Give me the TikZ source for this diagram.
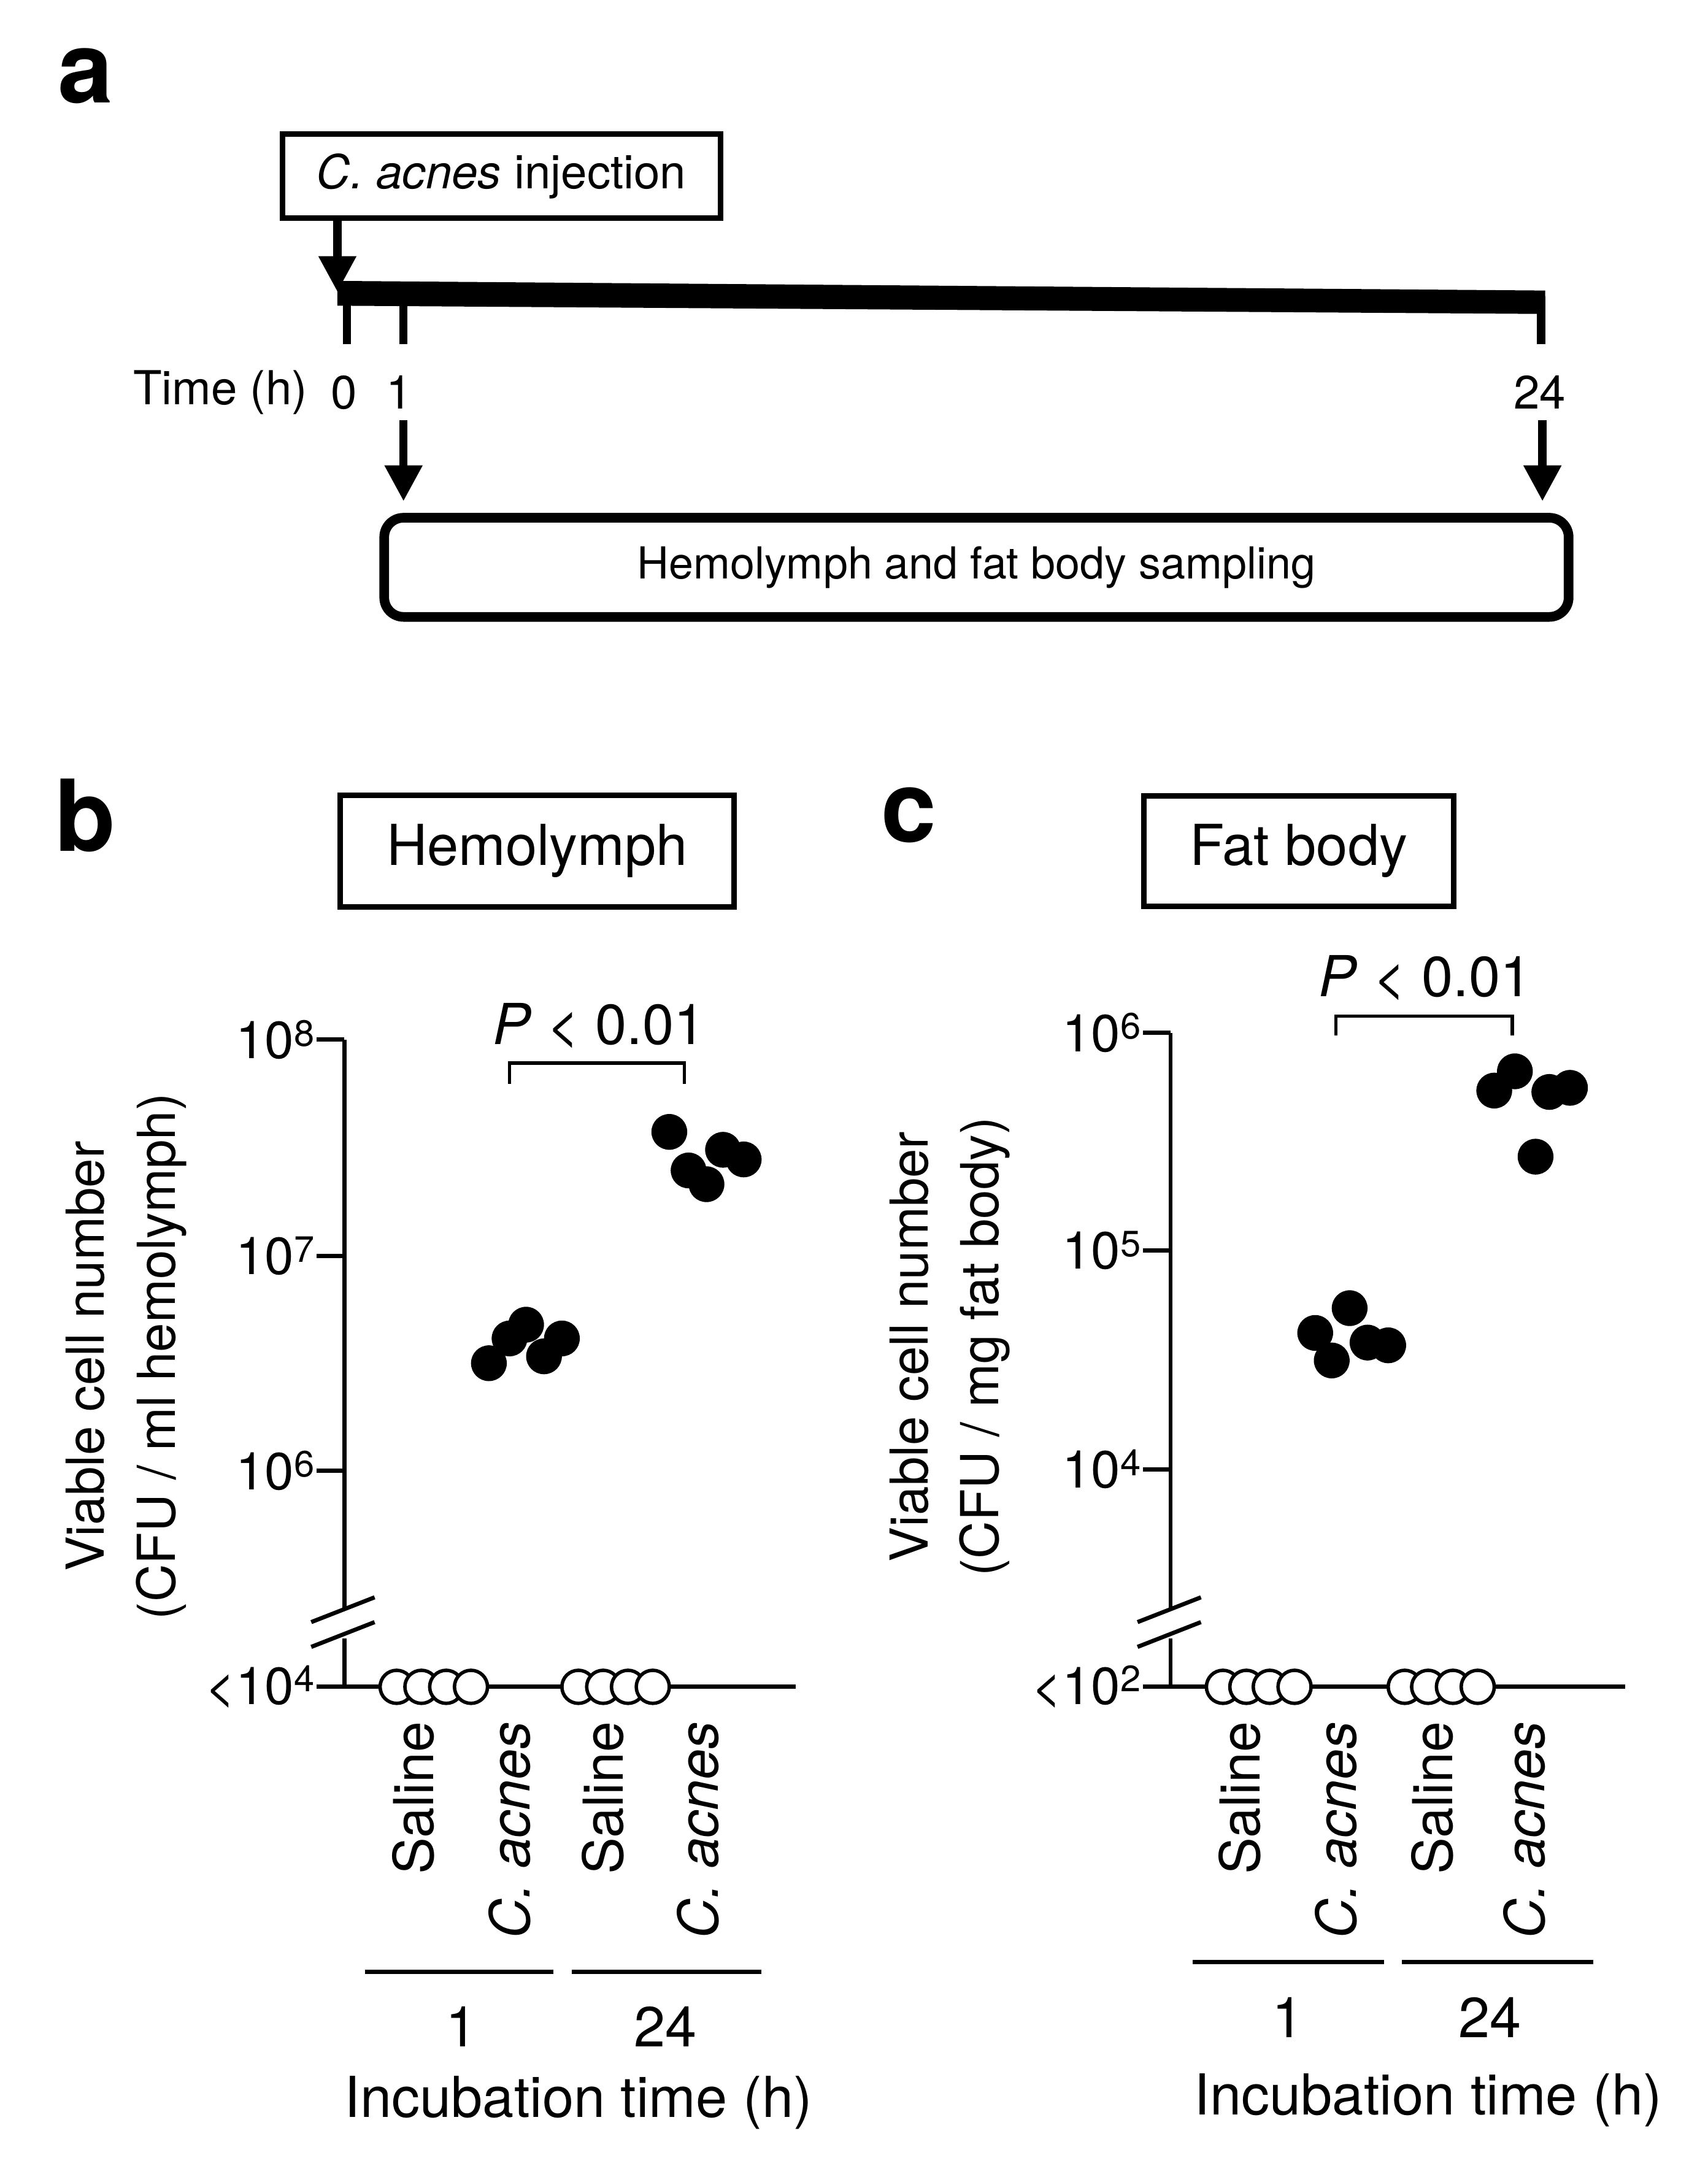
\documentclass[tikz,border=0pt]{standalone}
\usepackage{fontspec}
\setmainfont{TeX Gyre Heros}
\usetikzlibrary{arrows.meta}
\newcommand{\sps}[1]{\textsuperscript{#1}}
\begin{document}
\begin{tikzpicture}[x=1pt,y=-1pt,
  lbl/.style={font=\fontsize{34}{38}\selectfont,inner sep=0},
  tick/.style={font=\fontsize{38}{42}\selectfont,inner sep=0,anchor=east},
  cat/.style={font=\fontsize{40}{44}\selectfont,inner sep=0,rotate=90,anchor=east},
  big/.style={font=\fontsize{41}{45}\selectfont,inner sep=0},
  letter/.style={font=\fontsize{72}{76}\selectfont\bfseries,inner sep=0},
  ax/.style={line width=3pt},
  arr/.style={line width=6pt,-{Triangle[length=26pt,width=26pt]}},
  open/.style={draw,line width=2.5pt,fill=white},
  dot/.style={fill=black}]
\useasboundingbox (0,0) rectangle (1240,1573);
% ---- panel a
\node[letter] (la) at (62,55) {a};
\node[draw,line width=4pt,minimum width=318pt,minimum height=61pt,inner sep=0,font=\fontsize{34}{38}\selectfont] (inj) at (364,128) {\textit{C. acnes} injection};
\coordinate (t0) at (245,212);
\draw[arr] (245,158) -- (t0);
\fill (245,204) -- (1122,211) -- (1122,228) -- (245,222) -- cycle;
\draw[line width=6pt] (252,215) -- (252,250);
\draw[line width=6pt] (293,215) -- (293,250);
\draw[line width=6pt] (1119,215) -- (1119,250);
\node[lbl] (th) at (160,285) {Time (h)};
\node[lbl] (t0l) at (250,285) {0};
\node[lbl] (t1l) at (290,285) {1};
\node[lbl] (t24l) at (1118,285) {24};
\coordinate (s1) at (293,364);
\coordinate (s24) at (1120,364);
\draw[arr] (293,305) -- (s1);
\draw[arr] (1120,305) -- (s24);
\node[draw,line width=7pt,rounded corners=14pt,minimum width=860pt,minimum height=72pt,font=\fontsize{32}{36}\selectfont] (samp) at (709,412) {Hemolymph and fat body sampling};
% ---- panel b
\node[letter] (lb) at (62,592) {b};
\node[draw,line width=4pt,minimum width=286pt,minimum height=81pt,inner sep=0,big] (hb) at (390,618) {Hemolymph};
\draw[ax] (250,755) -- (250,1168);
\draw[ax] (250,1190) -- (250,1225) -- (578,1225);
\draw[line width=3pt] (226,1178) -- (272,1160);
\draw[line width=3pt] (226,1196) -- (272,1178);
\foreach \y in {755,912,1068,1225} \draw[ax] (230,\y) -- (250,\y);
\node[tick] (b8) at (229,755) {10\sps{8}};
\node[tick] (b7) at (229,912) {10\sps{7}};
\node[tick] (b6) at (229,1068) {10\sps{6}};
\node[tick] (b4) at (229,1225) {<10\sps{4}};
\node[rotate=90,font=\fontsize{38}{42}\selectfont,inner sep=0] (by1) at (62,985) {Viable cell number};
\node[rotate=90,font=\fontsize{38}{42}\selectfont,inner sep=0] (by2) at (117,985) {(CFU / ml hemolymph)};
\foreach \x in {288,306,324,342,420,438,456,474} \draw[open] (\x,1225) circle (12);
\foreach \p in {(355,990),(370,972),(382,962),(395,985),(408,972),(486,822),(500,850),(513,860),(525,835),(540,842)} \fill \p circle (13);
\draw[line width=2.5pt] (370,787) -- (370,772) -- (497,772) -- (497,787);
\node[big] (pb) at (435,745) {\textit{P} < 0.01};
\node[cat] (bc1) at (300,1250) {Saline};
\node[cat] (bc2) at (370,1250) {\textit{C. acnes}};
\node[cat] (bc3) at (438,1250) {Saline};
\node[cat] (bc4) at (507,1250) {\textit{C. acnes}};
\draw[line width=3pt] (265,1432) -- (402,1432);
\draw[line width=3pt] (415,1432) -- (553,1432);
\node[big] (b1) at (335,1472) {1};
\node[big] (b24) at (483,1472) {24};
\node[big] (bi) at (420,1527) {Incubation time (h)};
% ---- panel c
\node[letter] (lc) at (660,592) {c};
\node[draw,line width=4pt,minimum width=225pt,minimum height=80pt,inner sep=0,big] (fb) at (943,618) {Fat body};
\draw[ax] (850,750) -- (850,1168);
\draw[ax] (850,1190) -- (850,1225) -- (1180,1225);
\draw[line width=3pt] (826,1178) -- (872,1160);
\draw[line width=3pt] (826,1196) -- (872,1178);
\foreach \y in {750,908,1067,1225} \draw[ax] (830,\y) -- (850,\y);
\node[tick] (c6) at (829,750) {10\sps{6}};
\node[tick] (c5) at (829,908) {10\sps{5}};
\node[tick] (c4) at (829,1067) {10\sps{4}};
\node[tick] (c2) at (829,1225) {<10\sps{2}};
\node[rotate=90,font=\fontsize{38}{42}\selectfont,inner sep=0] (cy1) at (660,978) {Viable cell number};
\node[rotate=90,font=\fontsize{38}{42}\selectfont,inner sep=0] (cy2) at (715,978) {(CFU / mg fat body)};
\foreach \x in {888,905,922,940,1020,1037,1055,1073} \draw[open] (\x,1225) circle (12);
\foreach \p in {(955,968),(967,988),(980,950),(993,975),(1008,977),(1085,792),(1100,778),(1115,840),(1125,793),(1140,790)} \fill \p circle (13);
\draw[line width=2.5pt] (970,752) -- (970,738) -- (1098,738) -- (1098,752);
\node[big] (pc) at (1035,710) {\textit{P} < 0.01};
\node[cat] (cc1) at (900,1250) {Saline};
\node[cat] (cc2) at (970,1250) {\textit{C. acnes}};
\node[cat] (cc3) at (1040,1250) {Saline};
\node[cat] (cc4) at (1107,1250) {\textit{C. acnes}};
\draw[line width=3pt] (866,1425) -- (1005,1425);
\draw[line width=3pt] (1018,1425) -- (1157,1425);
\node[big] (c1) at (935,1465) {1};
\node[big] (c24) at (1082,1465) {24};
\node[big] (ci) at (1037,1525) {Incubation time (h)};
\end{tikzpicture}
\end{document}
